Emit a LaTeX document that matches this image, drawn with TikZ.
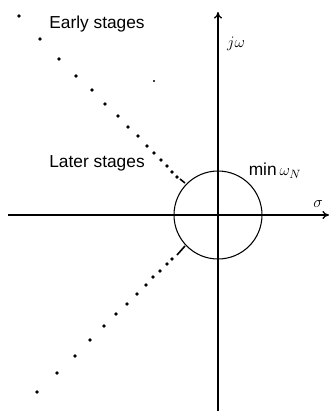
\documentclass[tikz,border=0pt]{standalone}
\usepackage{fontspec}
\setmainfont{Liberation Sans}
\usepackage{tikz}
\usetikzlibrary{arrows.meta}

\begin{document}
\begin{tikzpicture}[x=0.75pt,y=-0.75pt,
  every node/.style={font=\fontsize{13}{15}\selectfont,inner sep=1pt},
  axis/.style={line width=1pt},
  pole/.style={fill=black},
  >={To[length=5pt,width=6pt]}]
\useasboundingbox (0,0) rectangle (330,412);
\coordinate (o) at (218,215);
\coordinate (top) at (218,12);
\coordinate (bot) at (218,411);
\coordinate (left) at (8,215);
\coordinate (right) at (329,215);
% axes and circle
\draw[axis,->] (bot) -- (top);
\draw[axis,->] (left) -- (right);
\draw[line width=0.8pt] (o) circle[radius=44];
% pole positions
\foreach \x/\y in {19/16,40/39,59/59,76/76,92/90,105/104,118/116,128/127,138/136,
                   147/146,154/153,161/160,167/166,172/172,177/177,
                   37/392,57/373,75/356,90/340,104/326,116/314,127/304,137/294,
                   146/285,153/277,160/271,167/264,172/259}
  \fill[pole] (\x,\y) circle[radius=1.9];
\fill[pole] (154,81) circle[radius=1.2];
\coordinate (u1) at (180,179);
\coordinate (u2) at (185,183);
\coordinate (l1) at (177,255);
\coordinate (l2) at (185,246);
\draw[line width=1.2pt] (u1) -- (u2);
\draw[line width=1.2pt] (l1) -- (l2);
% labels
\node (early) at (97,24) {Early stages};
\node (later) at (97,163) {Later stages};
\node (jw) at (236,44) {$j\omega$};
\node (minw) at (275,171) {min\,$\omega_N$};
\node (sig) at (318,204) {$\sigma$};
\end{tikzpicture}
\end{document}
